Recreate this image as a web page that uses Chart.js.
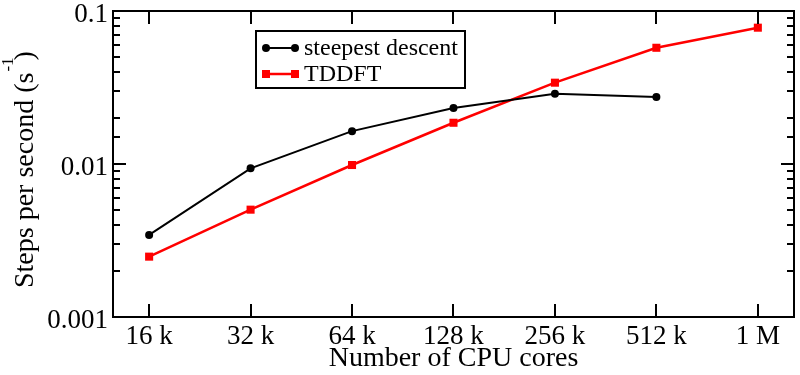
<!DOCTYPE html>
<html>
<head>
<meta charset="utf-8">
<script src="https://cdn.jsdelivr.net/npm/chart.js@4"></script>
<style>
  html, body { margin: 0; padding: 0; background: #fff; }
  #chart { display: block; }
</style>
</head>
<body>
<canvas id="chart" width="800" height="375"></canvas>
<script>
// cores in units of 1k, log2 spaced
const coresK = [16, 32, 64, 128, 256, 512, 1024];
const xLabels = ['16 k', '32 k', '64 k', '128 k', '256 k', '512 k', '1 M'];
const steepest = [0.00344, 0.00937, 0.0164, 0.0232, 0.0288, 0.0274];
const tddft = [0.00248, 0.00503, 0.00985, 0.0186, 0.0340, 0.0575, 0.0778];
const yTickLabels = ['0.001', '0.01', '0.1'];
const seriesNames = ['steepest descent', 'TDDFT'];

const FONT = '"Liberation Serif", "Times New Roman", serif';

const toPoints = vals => vals.map((v, i) => ({ x: coresK[i], y: v }));

const isDecade = v => Math.abs(Math.log10(v) - Math.round(Math.log10(v))) < 1e-6;

// frame, inward ticks, labels, legend, axis titles
const decor = {
  id: 'decor',
  afterDraw(chart) {
    const { ctx, chartArea: a, scales } = chart;
    const xs = scales.x, ys = scales.y;
    ctx.save();
    ctx.strokeStyle = '#000';
    ctx.fillStyle = '#000';
    ctx.lineWidth = 2;
    ctx.strokeRect(a.left, a.top, a.right - a.left, a.bottom - a.top);

    // x ticks, bottom and top
    ctx.beginPath();
    xs.ticks.forEach(t => {
      const px = Math.round(xs.getPixelForValue(t.value));
      ctx.moveTo(px, a.bottom); ctx.lineTo(px, a.bottom - 13);
      ctx.moveTo(px, a.top); ctx.lineTo(px, a.top + 13);
    });
    // y ticks, left and right
    ys.ticks.forEach(t => {
      const py = Math.round(ys.getPixelForValue(t.value));
      const len = isDecade(t.value) ? 13 : 7;
      ctx.moveTo(a.left, py); ctx.lineTo(a.left + len, py);
      ctx.moveTo(a.right, py); ctx.lineTo(a.right - len, py);
    });
    ctx.stroke();

    // tick labels
    ctx.font = '27px ' + FONT;
    ctx.textBaseline = 'alphabetic';
    ctx.textAlign = 'center';
    xs.ticks.forEach((t, i) => {
      const px = xs.getPixelForValue(t.value);
      ctx.fillText(xLabels[i], px, a.bottom + 27);
    });
    ctx.textAlign = 'right';
    let k = 0;
    ys.ticks.forEach(t => {
      if (!isDecade(t.value)) return;
      const py = ys.getPixelForValue(t.value);
      ctx.fillText(yTickLabels[k++], a.left - 5, py + 11);
    });

    // x title
    ctx.font = '28px ' + FONT;
    ctx.textAlign = 'center';
    ctx.fillText('Number of CPU cores', (a.left + a.right) / 2, 366);

    // y title with superscript
    ctx.save();
    ctx.translate(33, 288);
    ctx.rotate(-Math.PI / 2);
    ctx.textAlign = 'left';
    ctx.font = '28px ' + FONT;
    const main = 'Steps per second (s';
    ctx.fillText(main, 0, 0);
    const w = ctx.measureText(main).width;
    ctx.font = '17px ' + FONT;
    ctx.fillText('-1', w + 1, -20);
    ctx.font = '28px ' + FONT;
    ctx.fillText(')', w + 12, 0);
    ctx.restore();

    // legend
    const lx = 256, ly = 31, lw = 209, lh = 57;
    ctx.fillStyle = '#fff';
    ctx.fillRect(lx, ly, lw, lh);
    ctx.lineWidth = 2;
    ctx.strokeRect(lx, ly, lw, lh);
    const rows = [
      { y: 48, color: '#000', shape: 'circle', name: seriesNames[0] },
      { y: 74, color: '#f00', shape: 'rect', name: seriesNames[1] }
    ];
    rows.forEach(r => {
      ctx.strokeStyle = r.color;
      ctx.fillStyle = r.color;
      ctx.lineWidth = r.shape === 'rect' ? 2.5 : 2;
      ctx.beginPath();
      ctx.moveTo(266, r.y); ctx.lineTo(295, r.y);
      ctx.stroke();
      [266, 295].forEach(cx => {
        ctx.beginPath();
        if (r.shape === 'circle') ctx.arc(cx, r.y, 4, 0, Math.PI * 2);
        else ctx.rect(cx - 4, r.y - 4, 8, 8);
        ctx.fill();
      });
      ctx.fillStyle = '#000';
      ctx.font = '24px ' + FONT;
      ctx.textAlign = 'left';
      ctx.fillText(r.name, 304, r.y + 7);
    });
    ctx.restore();
  }
};

new Chart(document.getElementById('chart'), {
  type: 'line',
  data: {
    datasets: [
      {
        label: seriesNames[0],
        data: toPoints(steepest),
        borderColor: '#000',
        backgroundColor: '#000',
        borderWidth: 2,
        pointStyle: 'circle',
        pointRadius: 4,
        pointBorderWidth: 0,
        tension: 0
      },
      {
        label: seriesNames[1],
        data: toPoints(tddft),
        borderColor: '#f00',
        backgroundColor: '#f00',
        borderWidth: 2.5,
        pointStyle: 'rect',
        pointRadius: 5.7,
        pointBorderWidth: 0,
        tension: 0
      }
    ]
  },
  options: {
    responsive: false,
    animation: false,
    layout: { padding: { top: 11, right: 6, left: 0, bottom: 0 } },
    plugins: { legend: { display: false }, tooltip: { enabled: false } },
    scales: {
      x: {
        type: 'logarithmic',
        min: 12.5,
        max: 1311,
        grid: { display: false },
        border: { display: false },
        ticks: { display: false },
        afterBuildTicks: s => { s.ticks = coresK.map(v => ({ value: v })); },
        afterFit: s => { s.height = 58; }
      },
      y: {
        type: 'logarithmic',
        min: 0.001,
        max: 0.1,
        grid: { display: false },
        border: { display: false },
        ticks: { display: false },
        afterFit: s => { s.width = 113; }
      }
    }
  },
  plugins: [decor]
});
</script>
</body>
</html>
